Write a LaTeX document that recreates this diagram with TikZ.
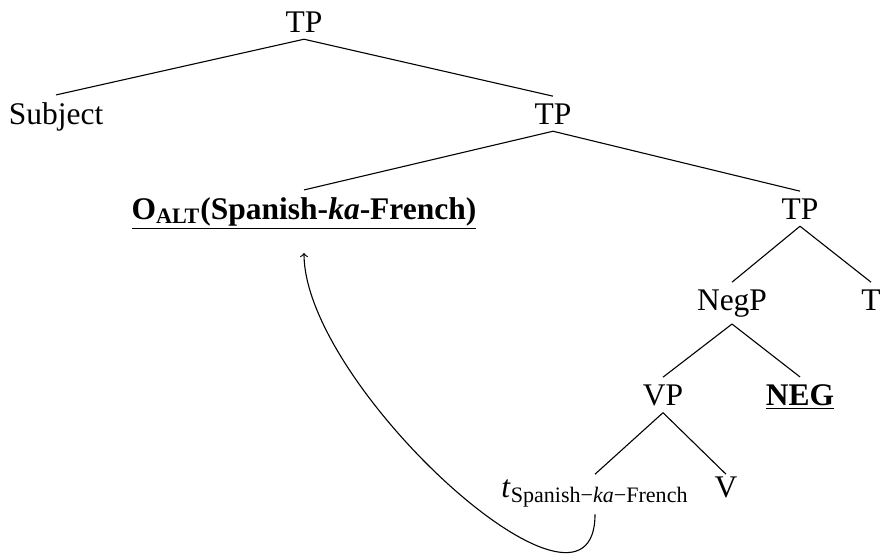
\documentclass[tikz,border=0pt]{standalone}
\usepackage{fontspec}
\setmainfont{Liberation Serif}
\usepackage{tikz}
\usetikzlibrary{arrows}

\begin{document}
\begin{tikzpicture}[x=0.5pt, y=-0.5pt, line width=0.55pt, font=\fontsize{15.75}{19}\selectfont]
    \useasboundingbox (0, 0) rectangle (881, 554);

    \node[anchor=base] (tp0) at (304, 32) {TP};
    \node[anchor=base] (subj) at (56, 124) {Subject};
    \node[anchor=base] (tp1) at (553, 124) {TP};
    \node[anchor=base] (oalt) at (304, 219) {\underline{\textbf{O\textsubscript{ALT}(Spanish-\textit{ka}-French)}}};
    \node[anchor=base] (tp2) at (800, 219) {TP};
    \node[anchor=base] (negp) at (732, 310) {NegP};
    \node[anchor=base] (t) at (871, 310) {T};
    \node[anchor=base] (vp) at (663, 405) {VP};
    \node[anchor=base] (neg) at (800, 405) {\underline{\textbf{NEG}}};
    \node[anchor=base, text height=0.78em] (tr) at (595, 497) {\textit{t}\textsubscript{Spanish−\textit{ka}−French}};
    \node[anchor=base, text height=0.78em] (v) at (726, 497) {V};

    \draw (tp0.south) -- (subj.north);
    \draw (tp0.south) -- (tp1.north);
    \draw (tp1.south) -- (oalt.north);
    \draw (tp1.south) -- (tp2.north);
    \draw (tp2.south) -- (negp.north);
    \draw (tp2.south) -- (t.north);
    \draw (negp.south) -- (vp.north);
    \draw (negp.south) -- (neg.north);
    \draw (vp.south) -- (tr.north);
    \draw (vp.south) -- (v.north);

    % movement of the disjunction
    \draw[-to, shorten >=8pt] (tr.south) .. controls +(0, 137) and +(0, 150) .. (oalt.south);
\end{tikzpicture}
\end{document}
